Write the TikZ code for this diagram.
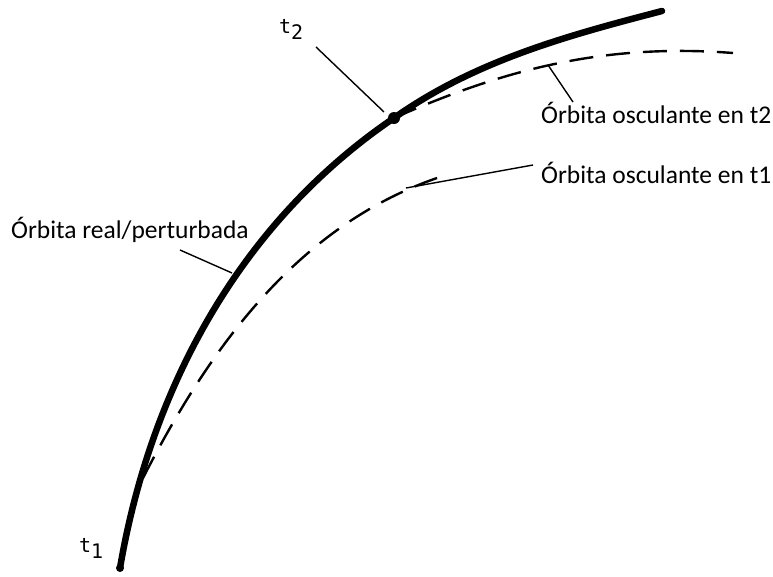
\documentclass[tikz,border=0pt]{standalone}
\usepackage{fontspec}
\setmainfont{Carlito}
\newfontfamily\epochfont{DejaVu Sans Mono}
\usetikzlibrary{positioning,calc}
\tikzset{
    % Base style for the Spanish labels
    label text/.style={
        font=\fontsize{25.5}{30}\selectfont,
        text=black,
        inner sep=0pt,
        anchor=base west,
    },
    % Epoch marks t1, t2
    epoch text/.style={
        font=\epochfont\fontsize{20}{24}\selectfont,
        inner sep=0pt,
        anchor=base west,
    },
    % Real / perturbed orbit - heavy line
    real orbit/.style={
        line width=6.5pt,
        line cap=round,
        line join=round,
    },
    % Osculating orbits - dashed
    osc orbit/.style={
        line width=2.4pt,
        dash pattern=on 24pt off 13pt,
    },
    % Leader lines from the labels
    leader/.style={
        line width=1.4pt,
    },
    % Epoch dots on the real orbit
    epoch dot/.style={
        circle,
        fill=black,
        inner sep=0pt,
        minimum size=#1,
    },
}

\begin{document}
\begin{tikzpicture}[x=1pt, y=-1pt]
    \useasboundingbox (0,0) rectangle (773,576);

    % epoch points
    \coordinate (e1) at (120,568);
    \coordinate (e2) at (394,118);

    % real orbit
    \draw [real orbit] (e1) .. controls (152,381) and (245,219) .. (e2)
        .. controls (476,60) and (570,35) .. (662,11);

    % osculating orbit at t1
    \draw [osc orbit] (143,478) .. controls (207,353) and (296,224) .. (443,176);

    % osculating orbit at t2
    \draw [osc orbit] (e2) .. controls (503,70) and (603,43) .. (733,53);

    \node (p1) [epoch dot=8pt] at (e1) {};
    \node (p2) [epoch dot=12pt] at (e2) {};

    % labels
    \node (t1) [epoch text] at (79,552) {t\raisebox{-0.6ex}{1}};
    \node (t2) [epoch text] at (279,33) {t\raisebox{-0.6ex}{2}};
    \node (real) [label text] at (11,238) {Órbita real/perturbada};
    \node (osc2) [label text] at (541,123) {Órbita osculante en t2};
    \node (osc1) [label text] at (541,183) {Órbita osculante en t1};

    % leader ends
    \coordinate (t2 from) at (316,47);
    \coordinate (t2 to) at (384,112);
    \coordinate (real from) at (180,250);
    \coordinate (real to) at (232,273);
    \coordinate (osc2 from) at (573,102);
    \coordinate (osc2 to) at (548,65);
    \coordinate (osc1 from) at (533,165);
    \coordinate (osc1 to) at (406,188);

    \draw [leader] (t2 from) -- (t2 to);
    \draw [leader] (real from) -- (real to);
    \draw [leader] (osc2 from) -- (osc2 to);
    \draw [leader] (osc1 from) -- (osc1 to);
\end{tikzpicture}
\end{document}
